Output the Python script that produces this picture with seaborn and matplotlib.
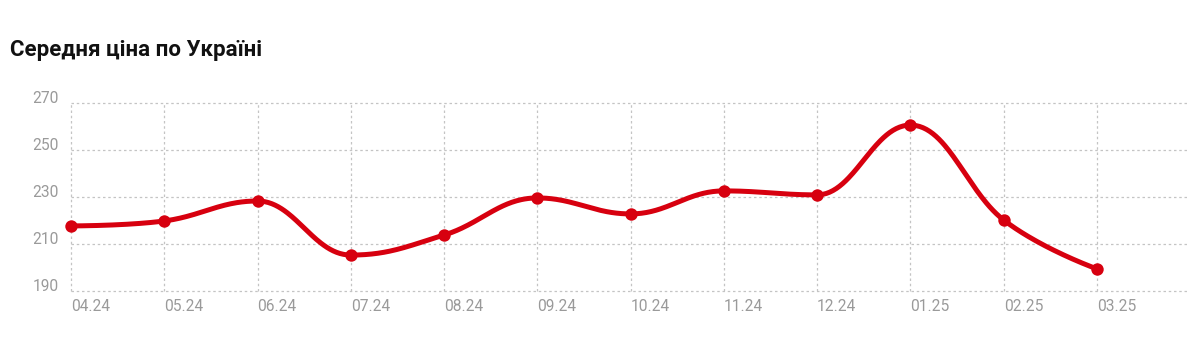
import numpy as np
import pandas as pd
import matplotlib
matplotlib.use("Agg")
import matplotlib.pyplot as plt
import matplotlib.transforms as mtransforms
import seaborn as sns

# ---- data ----
months = ["04.24", "05.24", "06.24", "07.24", "08.24", "09.24",
          "10.24", "11.24", "12.24", "01.25", "02.25", "03.25"]
prices = [217.7, 219.8, 228.3, 205.3, 213.8, 229.6,
          222.8, 232.6, 230.9, 260.6, 220.2, 199.4]
y_ticks = [190, 210, 230, 250, 270]
title = "Середня ціна по Україні"

RED = "#d7000f"
GRID = "#c4c4c4"
TICK = "#9a9a9a"


def spline_curve(xs, ys, smoothing=1.5, steps=60):
    """Highcharts-style smooth spline through the points (cubic Bezier segments)."""
    n = len(xs)
    xs = np.asarray(xs, float)
    ys = np.asarray(ys, float)
    lc = [(xs[i], ys[i]) for i in range(n)]
    rc = [(xs[i], ys[i]) for i in range(n)]
    denom = smoothing + 1
    for i in range(1, n - 1):
        px, py = xs[i], ys[i]
        lx, ly = xs[i - 1], ys[i - 1]
        nx, ny = xs[i + 1], ys[i + 1]
        lcx = (smoothing * px + lx) / denom
        lcy = (smoothing * py + ly) / denom
        rcx = (smoothing * px + nx) / denom
        rcy = (smoothing * py + ny) / denom
        corr = 0.0
        if rcx != lcx:
            corr = (rcy - lcy) * (rcx - px) / (rcx - lcx) + py - rcy
        lcy += corr
        rcy += corr
        if lcy > ly and lcy > py:
            lcy = max(ly, py)
            rcy = 2 * py - lcy
        elif lcy < ly and lcy < py:
            lcy = min(ly, py)
            rcy = 2 * py - lcy
        if rcy > ny and rcy > py:
            rcy = max(ny, py)
            lcy = 2 * py - rcy
        elif rcy < ny and rcy < py:
            rcy = min(ny, py)
            lcy = 2 * py - rcy
        lc[i] = (lcx, lcy)
        rc[i] = (rcx, rcy)
    t = np.linspace(0, 1, steps)[:, None]
    out = []
    for i in range(n - 1):
        p0 = np.array([xs[i], ys[i]])
        p1 = np.array(rc[i])
        p2 = np.array(lc[i + 1])
        p3 = np.array([xs[i + 1], ys[i + 1]])
        seg = ((1 - t) ** 3) * p0 + 3 * ((1 - t) ** 2) * t * p1 + 3 * (1 - t) * t ** 2 * p2 + t ** 3 * p3
        out.append(seg if i == 0 else seg[1:])
    pts = np.vstack(out)
    return pts[:, 0], pts[:, 1]


sns.set_theme(style="white")
plt.rcParams["font.family"] = ["Roboto", "DejaVu Sans"]

df = pd.DataFrame({"idx": np.arange(len(months)), "month": months, "price": prices})
sx, sy = spline_curve(df["idx"], df["price"])
curve = pd.DataFrame({"x": sx, "y": sy})

fig = plt.figure(figsize=(11.87, 3.42), dpi=100)
ax = fig.add_axes([71 / 1187, 1 - 291 / 342, 1 - 71 / 1187, (291 - 103) / 342])

sns.lineplot(data=curve, x="x", y="y", ax=ax, color=RED, linewidth=3.6,
             sort=False, estimator=None, zorder=3, solid_capstyle="round")
sns.scatterplot(data=df, x="idx", y="price", ax=ax, color=RED, s=80,
                linewidth=0, zorder=4, clip_on=False)

ax.set_xlim(0, (1187 - 71) / 93.27)
ax.set_ylim(190, 270)
ax.set_xticks(df["idx"])
ax.set_xticklabels(months)
ax.set_yticks(y_ticks)
ax.set_xlabel("")
ax.set_ylabel("")

for s in ax.spines.values():
    s.set_visible(False)

ax.grid(True, which="major", axis="both", color=GRID, linewidth=0.9,
        linestyle=(0, (2, 2.2)))
ax.set_axisbelow(True)
for gl in ax.get_xgridlines() + ax.get_ygridlines():
    gl.set_clip_on(False)

ax.tick_params(axis="both", length=0, labelsize=11.2, labelcolor=TICK)
ax.tick_params(axis="y", pad=9)
ax.tick_params(axis="x", pad=5.5)
for lab in ax.get_xticklabels():
    lab.set_horizontalalignment("left")
off_y = mtransforms.ScaledTranslation(0, 6 / 100, fig.dpi_scale_trans)
for lab in ax.get_yticklabels():
    lab.set_transform(lab.get_transform() + off_y)

fig.text(10 / 1187, 1 - 50 / 342, title, fontsize=16, fontweight="bold",
         color="#111111", ha="left", va="center")

fig.savefig("out.png", dpi=100)
